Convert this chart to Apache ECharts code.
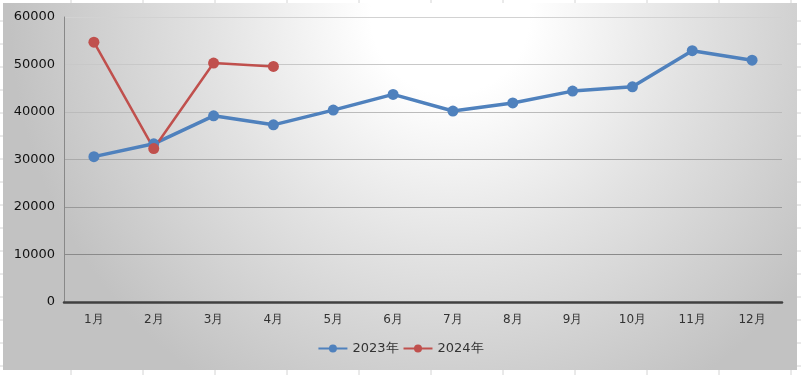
<!DOCTYPE html>
<html><head><meta charset="utf-8">
<script src="https://cdn.jsdelivr.net/npm/echarts@6/dist/echarts.min.js"></script>
<style>html,body{margin:0;padding:0;background:#fff}#c{width:801px;height:375px}</style>
</head><body><div id="c"></div>
<script>
const categories = ['1月','2月','3月','4月','5月','6月','7月','8月','9月','10月','11月','12月'];
const s2023 = [30600, 33300, 39200, 37300, 40400, 43700, 40200, 41900, 44400, 45300, 52900, 50900];
const s2024 = [54700, 32300, 50300, 49600];
const yTicks = [0, 10000, 20000, 30000, 40000, 50000, 60000];

const chart = echarts.init(document.getElementById('c'));
const font = 'DejaVu Sans';

// decorative spreadsheet cell lines around the chart
const deco = [];
const cellColor = '#d4d4d4';
for (let x = 71; x < 801; x += 72) {
  deco.push({ type: 'line', silent: true, z: -20, shape: { x1: x, y1: 0, x2: x, y2: 3 }, style: { stroke: cellColor } });
  deco.push({ type: 'line', silent: true, z: -20, shape: { x1: x, y1: 370, x2: x, y2: 375 }, style: { stroke: cellColor } });
}
for (let y = 21; y < 375; y += 23) {
  deco.push({ type: 'line', silent: true, z: -20, shape: { x1: 0, y1: y, x2: 3, y2: y }, style: { stroke: cellColor } });
  deco.push({ type: 'line', silent: true, z: -20, shape: { x1: 797, y1: y, x2: 801, y2: y }, style: { stroke: cellColor } });
}
const bg = new echarts.graphic.RadialGradient(450, 15, 440, [
  { offset: 0, color: '#ffffff' },
  { offset: 0.18, color: '#ffffff' },
  { offset: 0.55, color: '#e2e2e2' },
  { offset: 1, color: '#c2c2c2' }
], true);
deco.push({
  type: 'rect', z: -10, silent: true,
  shape: { x: 3, y: 3, width: 794, height: 367 },
  style: { fill: bg }
});

chart.setOption({
  animation: false,
  textStyle: { fontFamily: font },
  graphic: deco,
  grid: { left: 64, right: 19, top: 17, bottom: 73 },
  legend: {
    bottom: 15, left: 'center', itemWidth: 29, itemHeight: 10, itemGap: 4,
    textStyle: { fontFamily: font, fontSize: 13, color: '#333' },
    data: ['2023年', '2024年']
  },
  xAxis: {
    type: 'category', data: categories, boundaryGap: true,
    axisLine: { lineStyle: { color: '#404040', width: 2.5 } },
    axisTick: { show: false },
    axisLabel: { fontFamily: font, fontSize: 12, color: '#333', margin: 12 }
  },
  yAxis: {
    type: 'value', min: 0, max: 60000, interval: 10000,
    axisLine: { show: true, lineStyle: { color: '#888', width: 1 } },
    axisTick: { show: false },
    splitLine: { lineStyle: { color: ['#888', '#8a8a8a', '#999', '#aaa', '#bbb', '#c8c8c8', '#d2d2d2'] } },
    axisLabel: { fontFamily: font, fontSize: 13, color: '#111', margin: 9,
      formatter: v => yTicks.includes(v) ? String(v) : '' }
  },
  series: [
    { name: '2023年', type: 'line', data: s2023, symbol: 'circle', symbolSize: 11,
      lineStyle: { color: '#4f81bd', width: 3.5 }, itemStyle: { color: '#4f81bd' } },
    { name: '2024年', type: 'line', data: s2024, symbol: 'circle', symbolSize: 11,
      lineStyle: { color: '#c0504d', width: 2.5 }, itemStyle: { color: '#c0504d' } }
  ]
});
</script></body></html>
